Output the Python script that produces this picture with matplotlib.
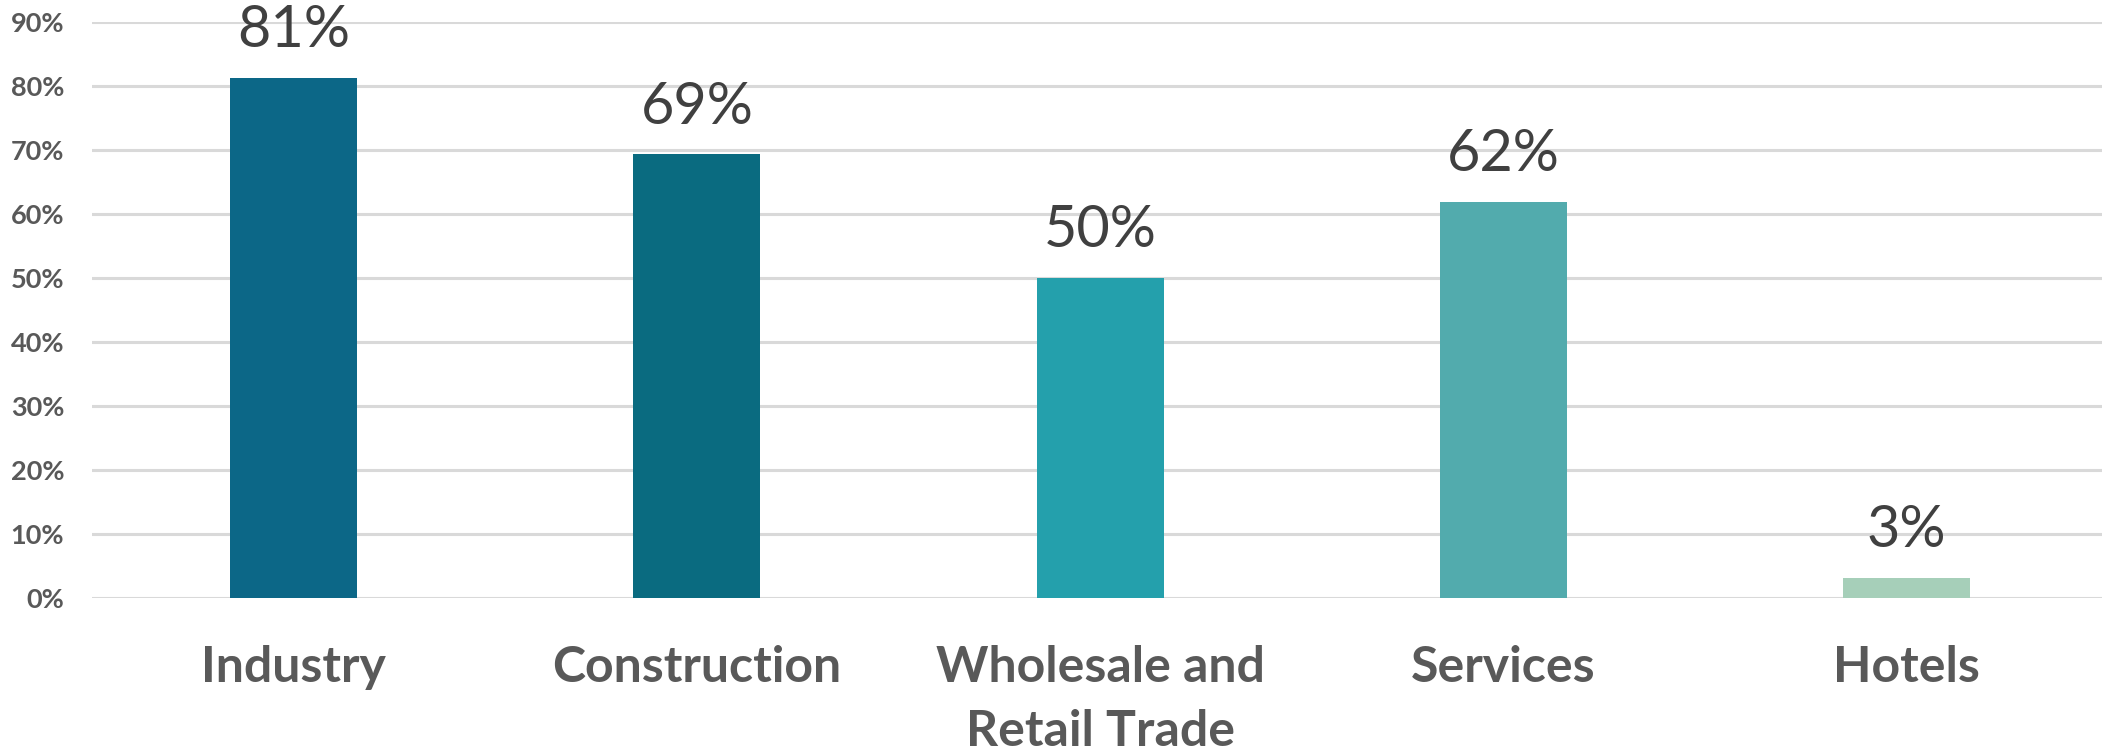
import matplotlib
matplotlib.use("Agg")
import matplotlib.pyplot as plt
from matplotlib.ticker import PercentFormatter, MultipleLocator

categories = ["Industry", "Construction", "Wholesale and\nRetail Trade", "Services", "Hotels"]
values = [81.2, 69.3, 50.0, 61.9, 3.1]
labels = ["81%", "69%", "50%", "62%", "3%"]
colors = ["#0C6787", "#0A6B80", "#24A0AC", "#52ABAD", "#A6CFB9"]

W, H, DPI = 2102, 752, 100
fig = plt.figure(figsize=(W / DPI, H / DPI), dpi=DPI)
plt.rcParams['font.family'] = ['Lato', 'DejaVu Sans']

left, right = 92, 2102
top, bottom = 22, 598
ax = fig.add_axes([left / W, 1 - bottom / H, (right - left) / W, (bottom - top) / H])

x = list(range(len(categories)))
ax.bar(x, values, width=0.315, color=colors, zorder=3)
ax.set_xlim(-0.5, len(categories) - 0.515)
ax.set_ylim(0, 90)
ax.yaxis.set_major_locator(MultipleLocator(10))
ax.yaxis.set_major_formatter(PercentFormatter(decimals=0))
ax.grid(axis='y', color='#D9D9D9', linewidth=2.2, zorder=0)
ax.set_axisbelow(True)
for s in ax.spines.values():
    s.set_visible(False)
ax.tick_params(axis='both', length=0)
ax.tick_params(axis='y', labelsize=19.5, labelcolor='#595959', pad=20)
for t in ax.get_yticklabels():
    t.set_fontweight('bold')
ax.set_xticks(x)
ax.set_xticklabels(categories, fontsize=36, fontweight='bold', color='#595959', linespacing=1.52)
ax.tick_params(axis='x', pad=34)

for xi, v, lab in zip(x, values, labels):
    ax.annotate(lab, (xi, v), xytext=(0, 15), textcoords='offset points',
                ha='center', va='bottom', fontsize=41.5, color='#404040', zorder=4,
                annotation_clip=False)

fig.savefig("out.png", dpi=DPI)
